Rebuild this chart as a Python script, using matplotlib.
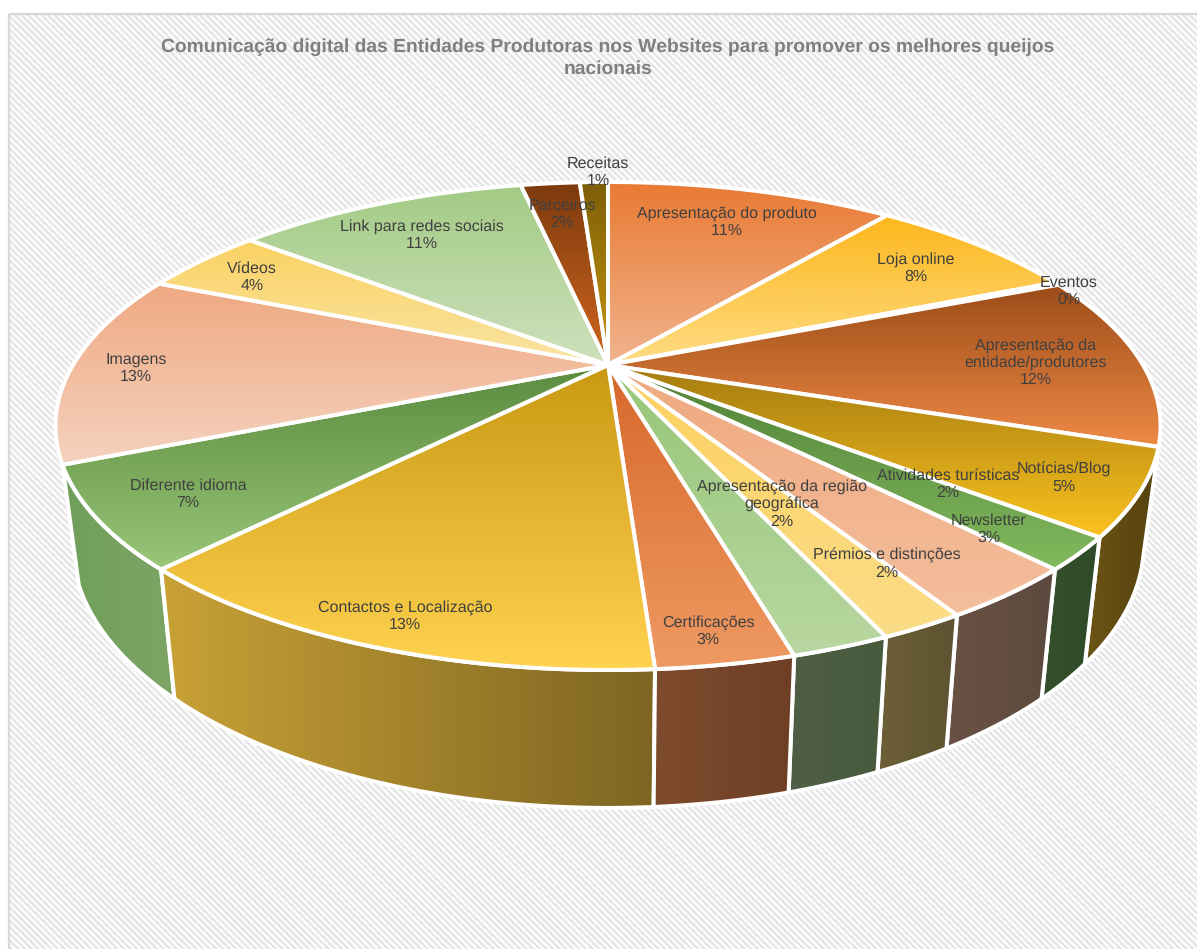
import numpy as np
import matplotlib
matplotlib.use('Agg')
import matplotlib.pyplot as plt
from matplotlib.colors import LinearSegmentedColormap
from matplotlib.patches import Polygon, Rectangle

plt.rcParams['font.family'] = ['Liberation Sans', 'DejaVu Sans']
plt.rcParams['text.hinting'] = 'no_hinting'
plt.rcParams['text.kerning_factor'] = 10

title = 'Comunicação digital das Entidades Produtoras nos Websites para promover os melhores queijos\nnacionais'

categories = ['Apresentação do produto', 'Loja online', 'Eventos',
              'Apresentação da\nentidade/produtores', 'Notícias/Blog',
              'Atividades turísticas', 'Newsletter', 'Prémios e distinções',
              'Apresentação da região\ngeográfica', 'Certificações',
              'Contactos e Localização', 'Diferente idioma', 'Imagens',
              'Vídeos', 'Link para redes sociais', 'Parceiros', 'Receitas']
values = [10.7, 7.8, 0.2, 11.6, 5.6, 2.1, 3.4, 2.0, 2.3, 3.2,
          13.0, 6.6, 12.8, 4.5, 10.85, 2.2, 1.05]
percent_labels = ['11%', '8%', '0%', '12%', '5%', '2%', '3%', '2%', '2%', '3%',
                  '13%', '7%', '13%', '4%', '11%', '2%', '1%']

# top face gradient, upper colour then lower colour
top_colors = [('#E97A33', '#F1B48E'), ('#FDB71C', '#FDDC84'), ('#8F5A12', '#B9811E'),
              ('#9C4C18', '#EE8A46'), ('#A37B10', '#FBC21F'), ('#4F7F36', '#82BA5E'),
              ('#EFA97F', '#F4BE9C'), ('#FCD05F', '#FBDD88'), ('#96C678', '#B8D7A1'),
              ('#D8672A', '#EE9A62'), ('#C99913', '#FFD24F'), ('#5A8B3E', '#99C678'),
              ('#EEA981', '#F6D2BF'), ('#FBD262', '#F9E4A4'), ('#A2CB84', '#CEE1BE'),
              ('#7C3A0E', '#D2661E'), ('#7E5F08', '#C9980F')]
# side wall gradient, left colour then right colour
wall_colors = {4: ('#6C5414', '#55420E'), 5: ('#34502C', '#2F4A28'), 6: ('#6A5244', '#5C4A3E'),
               7: ('#6D6038', '#5E5331'), 8: ('#4F5F45', '#465A3C'), 9: ('#7F4B2E', '#6E3F24'),
               10: ('#C9A236', '#7E6522'), 11: ('#6F9F5A', '#7DA566')}

label_x = [727, 916, 1069, 1036, 1064, 948, 989, 887, 782, 708, 405, 188, 136, 252, 422, 562, 598]
label_y = [222, 268, 291, 363, 478, 484, 529, 564, 504, 631, 616, 494, 368, 277, 235, 214, 172]

# pie geometry in picture pixels
cx, cy = 608, 365
radius = 535
persp = 0.25
tilt = 228.75


def project(theta):
    # clockwise from the top of the disc, with the near side drawn larger
    x = np.sin(theta)
    y = np.cos(theta)
    scale = 1 + persp * y
    return cx + radius * x / scale, cy - tilt * y / scale


def to_bottom(px, py):
    return cx + 0.97 * (px - cx), 477 + 1.085 * (py - cy)


def fill_gradient(ax, pts, c0, c1, horizontal, z):
    cmap = LinearSegmentedColormap.from_list('g', [c0, c1])
    grad = np.linspace(0, 1, 256)
    grad = grad.reshape(1, -1) if horizontal else grad.reshape(-1, 1)
    ext = (pts[:, 0].min(), pts[:, 0].max(), pts[:, 1].max(), pts[:, 1].min())
    im = ax.imshow(grad, cmap=cmap, extent=ext, aspect='auto', zorder=z,
                   origin='upper', interpolation='bilinear')
    patch = Polygon(pts, closed=True, facecolor='none', edgecolor='white',
                    linewidth=2.9, joinstyle='round', zorder=z + 0.5)
    ax.add_patch(patch)
    im.set_clip_path(patch)


fig = plt.figure(figsize=(11.97, 9.49), dpi=100)
ax = fig.add_axes([0, 0, 1, 1])
ax.axis('off')

# striped chart background
xx, yy = np.meshgrid(np.arange(9, 1197), np.arange(14, 949))
stripes = 0.5 + 0.5 * np.cos(2 * np.pi * (xx - yy) / 6.6)
stripe_cmap = LinearSegmentedColormap.from_list('bg', ['#FFFFFF', '#E3E3E3'])
ax.imshow(stripes, cmap=stripe_cmap, extent=(9, 1197, 949, 14), aspect='auto',
          origin='upper', interpolation='nearest', zorder=0)
ax.add_patch(Rectangle((9, 14), 1200, 945, facecolor='none', edgecolor='#D9D9D9',
                       linewidth=1.6, zorder=0.5))

fractions = np.array(values) / sum(values)
edges = np.concatenate([[0], np.cumsum(fractions)]) * 2 * np.pi

# side walls first, outer ones before the front one
order = sorted(wall_colors, key=lambda i: -abs((edges[i] + edges[i + 1]) / 2 - np.pi))
for n, i in enumerate(order):
    t = np.linspace(edges[i], edges[i + 1], 80)
    px, py = project(t)
    bx, by = to_bottom(px, py)
    pts = np.column_stack([np.r_[px, bx[::-1]], np.r_[py, by[::-1]]])
    fill_gradient(ax, pts, wall_colors[i][0], wall_colors[i][1], True, 1 + n)

# top face
for i, (c0, c1) in enumerate(top_colors):
    t = np.linspace(edges[i], edges[i + 1], 80)
    px, py = project(t)
    pts = np.column_stack([np.r_[cx, px], np.r_[cy, py]])
    fill_gradient(ax, pts, c0, c1, False, 20 + i)

for name, pct, x, y in zip(categories, percent_labels, label_x, label_y):
    ax.text(x, y, name + '\n' + pct, ha='center', va='center', fontsize=11.5,
            color='#404040', linespacing=1.2, zorder=50)

ax.text(608, 58, title, ha='center', va='center', fontsize=13.85, fontweight='bold',
        color='#7F7F7F', linespacing=1.32, zorder=50)

ax.set_xlim(0, 1197)
ax.set_ylim(949, 0)
fig.savefig('out.png', dpi=100)
